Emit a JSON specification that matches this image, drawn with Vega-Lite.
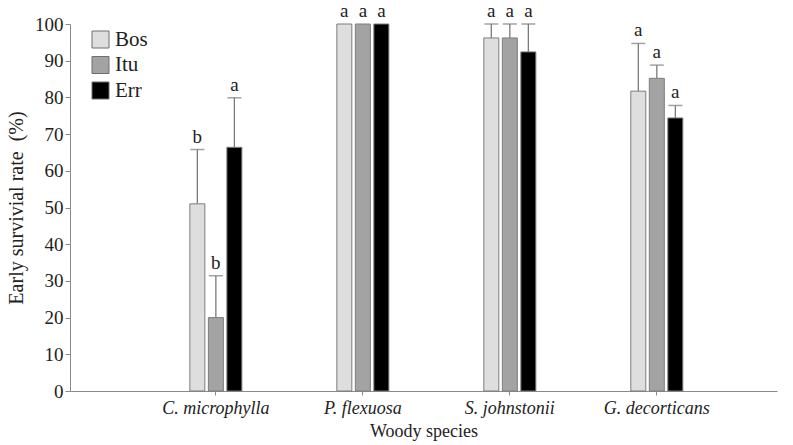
{
  "$schema": "https://vega.github.io/schema/vega-lite/v6.json",
  "width": 707,
  "height": 367,
  "autosize": {"type": "none"},
  "padding": {"left": 70, "top": 24, "right": 16, "bottom": 54},
  "background": "white",
  "config": {
    "view": {"stroke": null},
    "font": "Liberation Serif",
    "axis": {"grid": false, "domainColor": "#8a8a8a", "tickColor": "#8a8a8a", "labelColor": "#222", "titleColor": "#222", "labelFont": "Liberation Serif", "titleFont": "Liberation Serif", "titleFontWeight": "normal"},
    "axisY": {"values": [0,10,20,30,40,50,60,70,80,90,100], "labelOverlap": false, "labelFontSize": 19, "tickSize": 5, "labelPadding": 2, "titleFontSize": 20, "titlePadding": 8}
  },
  "data": {
    "values": [
      {"species": "C. microphylla", "group": "Bos", "value": 51, "upper": 65.8, "letter": "b"},
      {"species": "C. microphylla", "group": "Itu", "value": 20, "upper": 31.4, "letter": "b"},
      {"species": "C. microphylla", "group": "Err", "value": 66.4, "upper": 79.9, "letter": "a"},
      {"species": "P. flexuosa", "group": "Bos", "value": 100, "upper": 100, "letter": "a"},
      {"species": "P. flexuosa", "group": "Itu", "value": 100, "upper": 100, "letter": "a"},
      {"species": "P. flexuosa", "group": "Err", "value": 100, "upper": 100, "letter": "a"},
      {"species": "S. johnstonii", "group": "Bos", "value": 96.2, "upper": 100, "letter": "a"},
      {"species": "S. johnstonii", "group": "Itu", "value": 96.2, "upper": 100, "letter": "a"},
      {"species": "S. johnstonii", "group": "Err", "value": 92.4, "upper": 100, "letter": "a"},
      {"species": "G. decorticans", "group": "Bos", "value": 81.7, "upper": 94.7, "letter": "a"},
      {"species": "G. decorticans", "group": "Itu", "value": 85.2, "upper": 88.8, "letter": "a"},
      {"species": "G. decorticans", "group": "Err", "value": 74.4, "upper": 77.8, "letter": "a"}
    ]
  },
  "encoding": {
    "x": {
      "field": "species", "type": "nominal",
      "sort": ["C. microphylla", "P. flexuosa", "S. johnstonii", "G. decorticans"],
      "scale": {"paddingInner": 0.646, "paddingOuter": 0.728, "align": 0.56},
      "axis": {"title": "Woody species", "labelAngle": 0, "labelFontSize": 18, "labelFontStyle": "italic", "labelPadding": 4, "tickSize": 4, "titleFontSize": 18, "titlePadding": 5, "labelColor": "#222"}
    },
    "xOffset": {
      "field": "group", "type": "nominal",
      "sort": ["Bos", "Itu", "Err"],
      "scale": {"paddingInner": 0.19, "paddingOuter": 0}
    }
  },
  "layer": [
    {
      "mark": {"type": "rule", "color": "#7a7a7a", "strokeWidth": 1.3},
      "encoding": {
        "y": {"field": "value", "type": "quantitative", "scale": {"domain": [0, 100], "nice": false}, "axis": {"title": "Early survivial rate\u00a0\u00a0(%)"}},
        "y2": {"field": "upper"}
      }
    },
    {
      "transform": [{"filter": "datum.upper > datum.value"}],
      "mark": {"type": "tick", "color": "#7a7a7a", "thickness": 1.5, "size": 14, "orient": "horizontal"},
      "encoding": {
        "y": {"field": "upper", "type": "quantitative", "axis": {"title": "Early survivial rate\u00a0\u00a0(%)"}}
      }
    },
    {
      "mark": {"type": "bar", "stroke": "#7d7d7d", "strokeWidth": 1},
      "encoding": {
        "y": {
          "field": "value", "type": "quantitative",
          "scale": {"domain": [0, 100], "nice": false},
          "axis": {"title": "Early survivial rate\u00a0\u00a0(%)"}
        },
        "color": {
          "field": "group", "type": "nominal",
          "sort": ["Bos", "Itu", "Err"],
          "scale": {"domain": ["Bos", "Itu", "Err"], "range": ["#dedede", "#a3a3a3", "#000000"]},
          "legend": {
            "title": null, "orient": "none", "legendX": 20, "legendY": 5,
            "symbolType": "square", "symbolSize": 289, "symbolStrokeColor": "#6e6e6e", "symbolStrokeWidth": 1,
            "labelFontSize": 21, "labelFont": "Liberation Serif", "labelColor": "#222", "rowPadding": 3.5, "labelOffset": 4
          }
        }
      }
    },
    {
      "mark": {"type": "text", "baseline": "bottom", "dy": -3, "fontSize": 19, "font": "Liberation Serif", "color": "#222"},
      "encoding": {
        "y": {"field": "upper", "type": "quantitative", "axis": {"title": "Early survivial rate\u00a0\u00a0(%)"}},
        "text": {"field": "letter"}
      }
    }
  ]
}
